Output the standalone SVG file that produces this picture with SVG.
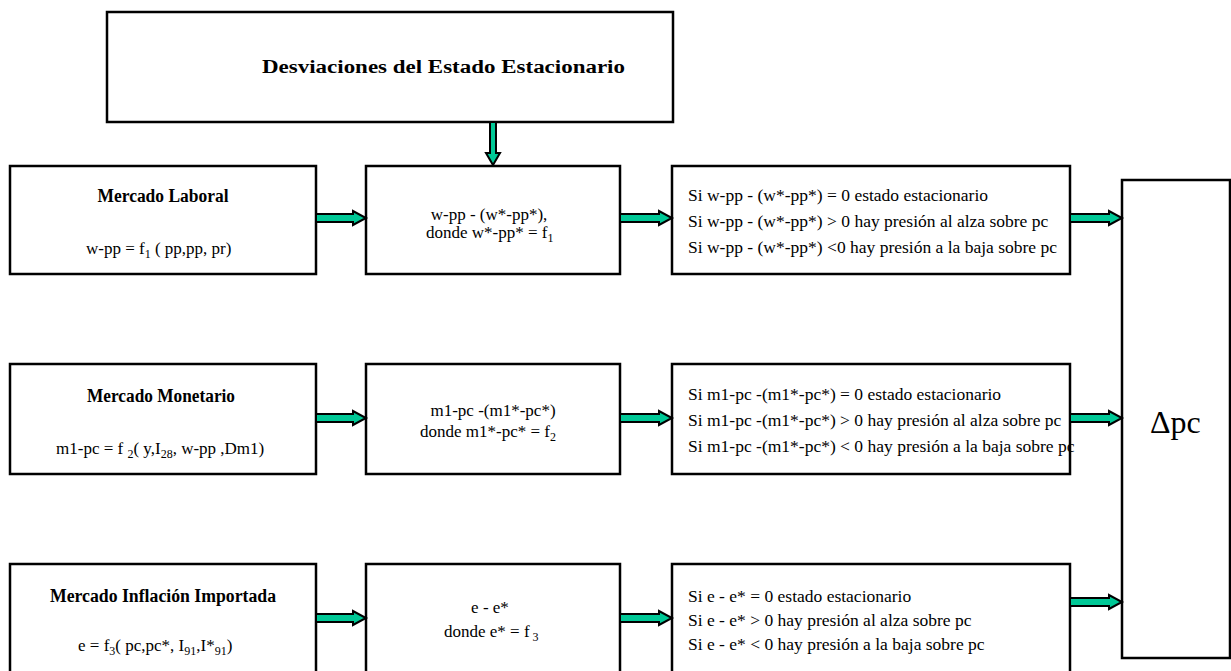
<svg xmlns="http://www.w3.org/2000/svg" width="1231" height="671" viewBox="0 0 1231 671">
<style>
.box{fill:#fff;stroke:#000;stroke-width:2.5}
.arr{fill:#00C896;stroke:#000;stroke-width:2;stroke-linejoin:miter}
.t{font-size:18px;font-weight:bold}
.f{font-size:17px}
.r{font-size:17.5px}
.d{font-size:32px}
.c{text-anchor:middle}
.sub{font-size:12px}
</style>
<rect width="1231" height="671" fill="#fff"/>
<g font-family="'Liberation Serif', 'Times New Roman', serif" fill="#000">
<g id="top">
<rect class="box" x="107" y="12" width="566" height="110"/>
<text class="t" x="262" y="73" textLength="363" lengthAdjust="spacingAndGlyphs">Desviaciones del Estado Estacionario</text>
</g>
<g id="laboral">
<rect class="box" x="10" y="166" width="306" height="108"/>
<text class="t c" x="163" y="202" textLength="131" lengthAdjust="spacingAndGlyphs">Mercado Laboral</text>
<text class="f" x="86" y="254">w-pp = f<tspan class="sub" dy="4">1</tspan><tspan dy="-4"> ( pp,pp, pr)</tspan></text>
</g>
<g id="laboral-dev">
<rect class="box" x="366" y="166" width="254" height="108"/>
<text class="f c" x="489" y="220">w-pp - (w*-pp*),</text>
<text class="f" x="426" y="238">donde w*-pp* = f<tspan class="sub" dy="4">1</tspan></text>
</g>
<g id="laboral-cond">
<rect class="box" x="672" y="166" width="398" height="108"/>
<text class="r" x="688" y="201">Si w-pp - (w*-pp*) = 0 estado estacionario</text>
<text class="r" x="688" y="227">Si w-pp - (w*-pp*) &gt; 0 hay presión al alza sobre  pc</text>
<text class="r" x="688" y="253">Si w-pp - (w*-pp*) &lt;0 hay presión a la baja sobre pc</text>
</g>
<g id="monetario">
<rect class="box" x="10" y="364" width="306" height="110"/>
<text class="t c" x="161" y="402" textLength="148" lengthAdjust="spacingAndGlyphs">Mercado Monetario</text>
<text class="f" x="56" y="454">m1-pc = f <tspan class="sub" dy="4">2</tspan><tspan dy="-4">( y,I</tspan><tspan class="sub" dy="4">28</tspan><tspan dy="-4">, w-pp ,Dm1)</tspan></text>
</g>
<g id="monetario-dev">
<rect class="box" x="366" y="364" width="254" height="110"/>
<text class="f c" x="493" y="416">m1-pc -(m1*-pc*)</text>
<text class="f" x="420" y="437">donde m1*-pc* = f<tspan class="sub" dy="4">2</tspan></text>
</g>
<g id="monetario-cond">
<rect class="box" x="672" y="364" width="398" height="110"/>
<text class="r" x="688" y="400">Si m1-pc -(m1*-pc*) = 0 estado estacionario</text>
<text class="r" x="688" y="426">Si m1-pc -(m1*-pc*) &gt; 0 hay presión al alza sobre  pc</text>
<text class="r" x="688" y="452">Si m1-pc -(m1*-pc*) &lt; 0 hay presión a la baja sobre pc</text>
</g>
<g id="importada">
<rect class="box" x="10" y="564" width="306" height="112"/>
<text class="t c" x="163" y="602" textLength="226" lengthAdjust="spacingAndGlyphs">Mercado Inflación Importada</text>
<text class="f" x="78" y="651">e  = f<tspan class="sub" dy="4">3</tspan><tspan dy="-4">( pc,pc*, I</tspan><tspan class="sub" dy="4">91</tspan><tspan dy="-4">,I*</tspan><tspan class="sub" dy="4">91</tspan><tspan dy="-4">)</tspan></text>
</g>
<g id="importada-dev">
<rect class="box" x="366" y="564" width="254" height="112"/>
<text class="f c" x="490" y="613">e - e*</text>
<text class="f" x="444" y="637">donde e* = f<tspan class="sub" dy="4"> 3</tspan></text>
</g>
<g id="importada-cond">
<rect class="box" x="672" y="564" width="398" height="112"/>
<text class="r" x="688" y="602">Si e - e* = 0 estado estacionario</text>
<text class="r" x="688" y="626">Si e - e* &gt; 0 hay  presión  al alza sobre  pc</text>
<text class="r" x="688" y="650">Si e - e* &lt; 0 hay  presión a la baja sobre pc</text>
</g>
<g id="dpc">
<rect class="box" x="1122" y="180" width="108" height="478"/>
<text class="d" x="1150" y="433" style="font-family:'Liberation Serif',serif">Δpc</text>
</g>
</g>
<g id="connectors">
<polygon class="arr" points="490,122 496,122 496,153 500,153 493,165 486,153 490,153"/>
<polygon class="arr" points="316,214 353,214 353,211 366,218 353,225 353,222 316,222"/>
<polygon class="arr" points="620,214 659,214 659,211 672,218 659,225 659,222 620,222"/>
<polygon class="arr" points="1070,214 1109,214 1109,211 1122,218 1109,225 1109,222 1070,222"/>
<polygon class="arr" points="316,414 353,414 353,411 366,418 353,425 353,422 316,422"/>
<polygon class="arr" points="620,414 659,414 659,411 672,418 659,425 659,422 620,422"/>
<polygon class="arr" points="1070,414 1109,414 1109,411 1122,418 1109,425 1109,422 1070,422"/>
<polygon class="arr" points="316,614 353,614 353,611 366,618 353,625 353,622 316,622"/>
<polygon class="arr" points="620,614 659,614 659,611 672,618 659,625 659,622 620,622"/>
<polygon class="arr" points="1070,598 1109,598 1109,595 1122,602 1109,609 1109,606 1070,606"/>
</g>
</svg>
